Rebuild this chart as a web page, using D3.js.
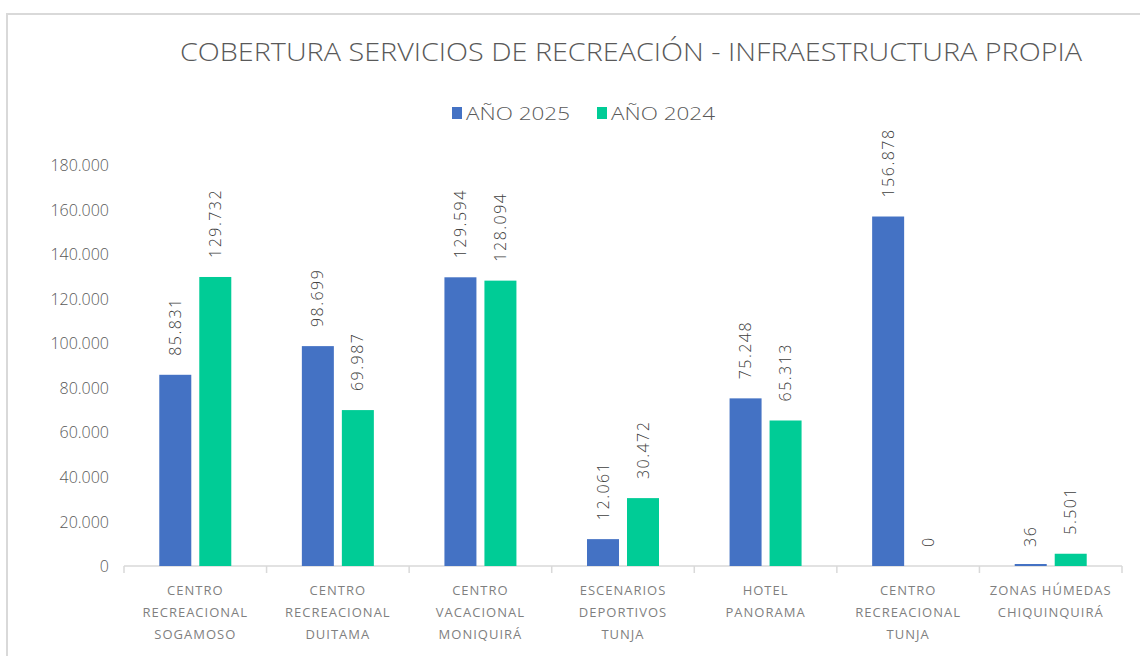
<!DOCTYPE html>
<html>
<head>
<meta charset="utf-8">
<script src="https://cdn.jsdelivr.net/npm/d3@7"></script>
<style>
  body { margin: 0; background: #fff; }
  text { font-family: "Open Sans", "DejaVu Sans", sans-serif; }
</style>
</head>
<body>
<svg id="chart" width="1140" height="656"></svg>
<script>
// data
const categories = [
  ["CENTRO", "RECREACIONAL", "SOGAMOSO"],
  ["CENTRO", "RECREACIONAL", "DUITAMA"],
  ["CENTRO", "VACACIONAL", "MONIQUIRÁ"],
  ["ESCENARIOS", "DEPORTIVOS", "TUNJA"],
  ["HOTEL", "PANORAMA"],
  ["CENTRO", "RECREACIONAL", "TUNJA"],
  ["ZONAS HÚMEDAS", "CHIQUINQUIRÁ"]
];
const seriesNames = ["AÑO 2025", "AÑO 2024"];
const values2025 = [85831, 98699, 129594, 12061, 75248, 156878, 36];
const values2024 = [129732, 69987, 128094, 30472, 65313, 0, 5501];
const yTicks = [0, 20000, 40000, 60000, 80000, 100000, 120000, 140000, 160000, 180000];
const colors = ["#4472C4", "#00CC96"];

let width = 1140;
let height = 656;
let margin = { top: 165, right: 18, bottom: 90, left: 124 };
let svg = d3.select("#chart");

let fmt = d3.formatLocale({ decimal: ",", thousands: ".", grouping: [3], currency: ["$", ""] }).format(",d");

// outer border
svg.append("path")
  .attr("d", `M7,${height} L7,14 L${width},14`)
  .style("fill", "none")
  .style("stroke", "#d9d9d9")
  .style("stroke-width", "2px");

let x = d3.scaleBand()
  .domain(d3.range(categories.length))
  .range([margin.left, width - margin.right]);

let xInner = d3.scaleBand()
  .domain([0, 1])
  .range([x.bandwidth() / 2 - 36, x.bandwidth() / 2 + 36])
  .paddingInner(0.2);

let y = d3.scaleLinear()
  .domain([0, 180000])
  .range([height - margin.bottom, margin.top]);

// title
svg.append("text")
  .attr("x", 631)
  .attr("y", 61)
  .attr("text-anchor", "middle")
  .attr("textLength", 902)
  .attr("lengthAdjust", "spacingAndGlyphs")
  .style("font-size", "25px")
  .style("font-weight", "300")
  .style("fill", "#595959")
  .text("COBERTURA SERVICIOS DE RECREACIÓN - INFRAESTRUCTURA PROPIA");

// legend
let legendX = [452, 597];
seriesNames.forEach((name, i) => {
  svg.append("rect")
    .attr("x", legendX[i])
    .attr("y", 107)
    .attr("width", 10)
    .attr("height", 12)
    .style("fill", colors[i]);
  svg.append("text")
    .attr("x", legendX[i] + 14)
    .attr("y", 120)
    .attr("textLength", 104)
    .attr("lengthAdjust", "spacingAndGlyphs")
    .style("font-size", "18px")
    .style("font-weight", "300")
    .style("fill", "#595959")
    .text(name);
});

// y axis
let yAxis = svg.append("g")
  .attr("transform", `translate(${margin.left - 12},0)`)
  .call(d3.axisLeft(y).tickValues(yTicks).tickSize(0).tickFormat(fmt));
yAxis.select(".domain").remove();
yAxis.selectAll("text")
  .style("font-size", "16px")
  .style("font-weight", "300")
  .style("fill", "#595959")
  .attr("dy", "0.35em");

// x axis
let xAxis = svg.append("g")
  .attr("transform", `translate(0,${y(0)})`);
xAxis.append("line")
  .attr("x1", margin.left)
  .attr("x2", width - margin.right)
  .style("stroke", "#d9d9d9")
  .style("stroke-width", "1.5px");
xAxis.selectAll(".tick")
  .data(d3.range(categories.length + 1))
  .join("line")
  .attr("x1", d => margin.left + d * x.step())
  .attr("x2", d => margin.left + d * x.step())
  .attr("y1", 0)
  .attr("y2", 7)
  .style("stroke", "#d9d9d9")
  .style("stroke-width", "1.5px");

let catLabels = xAxis.selectAll(".cat")
  .data(categories)
  .join("text")
  .attr("class", "cat")
  .attr("text-anchor", "middle")
  .style("font-size", "13px")
  .style("letter-spacing", "1px")
  .style("fill", "#7f7f7f");
catLabels.each(function (lines, i) {
  d3.select(this).selectAll("tspan")
    .data(lines)
    .join("tspan")
    .attr("x", x(i) + x.bandwidth() / 2)
    .attr("y", (d, j) => 29 + j * 22)
    .text(d => d);
});

// bars (tiny non-zero values get a hairline like the original)
let seriesData = [values2025, values2024];
seriesData.forEach((vals, s) => {
  svg.append("g")
    .selectAll("rect")
    .data(vals)
    .join("rect")
    .attr("x", (d, i) => x(i) + xInner(s))
    .attr("y", d => d > 0 ? Math.min(y(d), y(0) - 2) : y(0))
    .attr("width", xInner.bandwidth())
    .attr("height", d => d > 0 ? Math.max(2, y(0) - y(d)) : 0)
    .style("fill", colors[s]);

  svg.append("g")
    .selectAll("text")
    .data(vals)
    .join("text")
    .attr("transform", (d, i) => `translate(${x(i) + xInner(s) + xInner.bandwidth() / 2},${y(d) - 19}) rotate(-90)`)
    .attr("dy", "0.35em")
    .style("font-size", "16px")
    .style("font-weight", "300")
    .style("letter-spacing", "1.5px")
    .style("fill", "#404040")
    .text(d => fmt(d));
});
</script>
</body>
</html>
